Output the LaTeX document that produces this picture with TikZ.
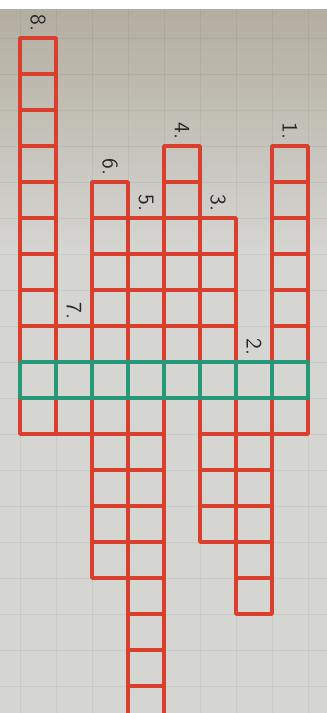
\documentclass[tikz,border=0pt]{standalone}
\definecolor{markerRed}{RGB}{218,62,44}
\definecolor{markerGreen}{RGB}{38,152,120}
\definecolor{paperTop}{RGB}{180,174,160}
\definecolor{paperLight}{RGB}{213,213,210}
\tikzset{
  crossword paper/.style={draw=none},
  crossword paper grid/.style={draw=black, draw opacity=0.05, line width=0.5pt},
  crossword cell/.style={
    draw=markerRed,
    line width=1.8pt,
    line join=round
  },
  crossword solution cell/.style={
    draw=markerGreen,
    line width=1.9pt,
    line join=round
  },
  crossword label/.style={
    rotate=-90,
    inner sep=0pt,
    font=\sffamily\fontsize{11}{12}\selectfont,
    text=black!85
  }
}
% #2 = number, #3 = column, #4 = first row, #5 = last row
\newcommand{\crosswordWord}[5][]{%
  \foreach \row in {#4,...,#5}{%
    \draw[crossword cell,#1] (#3,\row) rectangle ++(1,1);%
  }%
  \node[crossword label] (word#2) at ({#3+0.5},{#4-0.42}) {#2.};%
}
\newcommand{\crosswordSolutionCell}[2][]{%
  \draw[crossword solution cell,#1] (#2,9) rectangle ++(1,1);%
}

\begin{document}
\begin{tikzpicture}[x=18pt,y=-18pt]
  \useasboundingbox (-0.5556,-1.0556) rectangle (8.5278,18.75);
  \clip (-0.5556,-1.0556) rectangle (8.5278,18.75);

  % the sheet of squared paper
  \fill[white] (-0.5556,-1.0556) rectangle (8.5278,-0.78);
  \shade[crossword paper,top color=paperTop,bottom color=paperLight]
    (-0.5556,-0.78) rectangle (8.5278,6);
  \fill[paperLight] (-0.5556,6) rectangle (8.5278,18.75);
  \foreach \col in {0,...,8}
    \draw[crossword paper grid] (\col,-0.78) -- (\col,18.75);
  \foreach \row in {0,...,18}
    \draw[crossword paper grid] (-0.5556,\row) -- (8.5278,\row);

  \crosswordWord{8}{0}{0}{10}
  \crosswordWord{7}{1}{8}{10}
  \crosswordWord{6}{2}{4}{14}
  \crosswordWord{5}{3}{5}{18}
  \crosswordWord{4}{4}{3}{9}
  \crosswordWord{3}{5}{5}{13}
  \crosswordWord{2}{6}{9}{15}
  \crosswordWord{1}{7}{3}{10}

  \foreach \col in {0,...,7}{\crosswordSolutionCell{\col}}
\end{tikzpicture}
\end{document}
